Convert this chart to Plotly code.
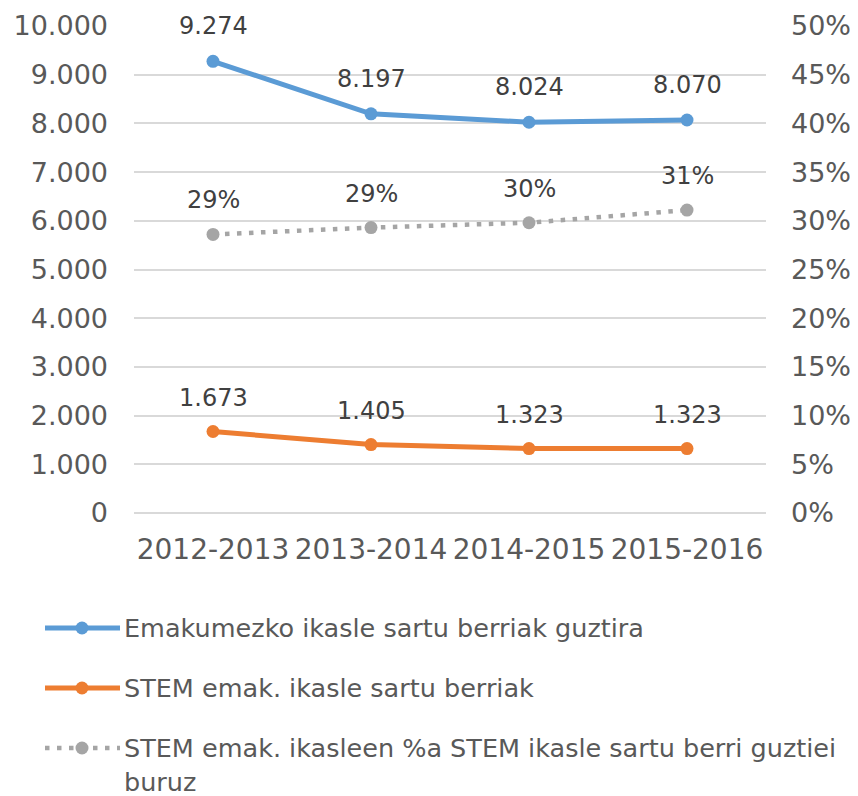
import plotly.graph_objects as go

categories = ["2012-2013", "2013-2014", "2014-2015", "2015-2016"]
total_women = [9274, 8197, 8024, 8070]
stem_women = [1673, 1405, 1323, 1323]
stem_pct = [0.286, 0.293, 0.298, 0.311]

names = [
    "Emakumezko ikasle sartu berriak guztira",
    "STEM emak. ikasle sartu berriak",
    "STEM emak. ikasleen %a STEM ikasle sartu berri guztiei buruz",
]

BLUE = "#5B9BD5"
ORANGE = "#ED7D31"
GREY = "#A5A5A5"
TXT = "#595959"
LBL = "#404040"
FONT = "DejaVu Sans"
DOTS = "4.5px,7.5px"

# page body has an 8px offset; work in page pixels and subtract it
OFF = 8
W, H = 858 - OFF, 796 - OFF
L, R, T, B = 134 - OFF, 766 - OFF, 26 - OFF, 513 - OFF


def px(x):
    return (x - OFF - L) / (R - L)


def py(y):
    return (B - (y - OFF)) / (B - T)


def thousands(v):
    return f"{v:,}".replace(",", ".")


fig = go.Figure()
fig.add_trace(go.Scatter(x=categories, y=total_women, mode="lines+markers", name=names[0],
                         line=dict(color=BLUE, width=5), marker=dict(size=13, color=BLUE),
                         showlegend=False, hoverinfo="skip"))
fig.add_trace(go.Scatter(x=categories, y=stem_women, mode="lines+markers", name=names[1],
                         line=dict(color=ORANGE, width=5), marker=dict(size=13, color=ORANGE),
                         showlegend=False, hoverinfo="skip"))
fig.add_trace(go.Scatter(x=categories, y=stem_pct, mode="lines+markers", name=names[2], yaxis="y2",
                         line=dict(color=GREY, width=4.5, dash=DOTS), marker=dict(size=13, color=GREY),
                         showlegend=False, hoverinfo="skip"))

ann = []
for c, v in zip(categories, total_women):
    ann.append(dict(x=c, y=v, xref="x", yref="y", text=thousands(v), showarrow=False,
                    yshift=35, font=dict(family=FONT, size=24, color=LBL)))
for c, v in zip(categories, stem_women):
    ann.append(dict(x=c, y=v, xref="x", yref="y", text=thousands(v), showarrow=False,
                    yshift=34, font=dict(family=FONT, size=24, color=LBL)))
for c, v in zip(categories, stem_pct):
    ann.append(dict(x=c, y=v, xref="x", yref="y2", text=f"{round(v*100):d}%", showarrow=False,
                    yshift=34, font=dict(family=FONT, size=24, color=LBL)))

# manual legend
shapes = []
leg_rows = [(628, BLUE, "solid", 5, [names[0]]),
            (688, ORANGE, "solid", 5, [names[1]]),
            (748, GREY, DOTS, 4.5, ["STEM emak. ikasleen %a STEM ikasle sartu berri guztiei", "buruz"])]
for yy, col, dash, wd, lines in leg_rows:
    shapes.append(dict(type="line", xref="paper", yref="paper", x0=px(45), x1=px(120),
                       y0=py(yy), y1=py(yy), line=dict(color=col, width=wd, dash=dash)))
    shapes.append(dict(type="circle", xref="paper", yref="paper", xsizemode="pixel", ysizemode="pixel",
                       xanchor=px(82), yanchor=py(yy), x0=-6.5, x1=6.5, y0=-6.5, y1=6.5,
                       fillcolor=col, line=dict(width=0)))
    for i, t in enumerate(lines):
        ann.append(dict(x=px(122), y=py(yy + 34 * i), xref="paper", yref="paper", text=t,
                        showarrow=False, xanchor="left", yanchor="middle",
                        font=dict(family=FONT, size=25.5, color=TXT)))

fig.update_layout(
    width=W, height=H,
    margin=dict(l=L, r=W - R, t=T, b=H - B, autoexpand=False),
    paper_bgcolor="white", plot_bgcolor="white",
    separators=",.",
    showlegend=False,
    font=dict(family=FONT, color=TXT),
    xaxis=dict(type="category", range=[-0.5, 3.5], showgrid=False, showline=False, ticks="",
               tickfont=dict(size=28, color=TXT), ticklabelstandoff=17, automargin=False),
    yaxis=dict(range=[0, 10000], dtick=1000, tickformat=",d", showgrid=True, gridcolor="#D9D9D9",
               gridwidth=1.5, zeroline=True, zerolinecolor="#D9D9D9", zerolinewidth=1.5,
               showline=False, ticks="", tickfont=dict(size=27, color=TXT), ticklabelstandoff=25,
               automargin=False),
    yaxis2=dict(range=[0, 0.5], dtick=0.05, tickformat=".0%", overlaying="y", side="right",
                showgrid=False, zeroline=False, showline=False, ticks="",
                tickfont=dict(size=27, color=TXT), ticklabelstandoff=24, automargin=False),
    annotations=ann,
    shapes=shapes,
)

fig.write_html("out.html")
